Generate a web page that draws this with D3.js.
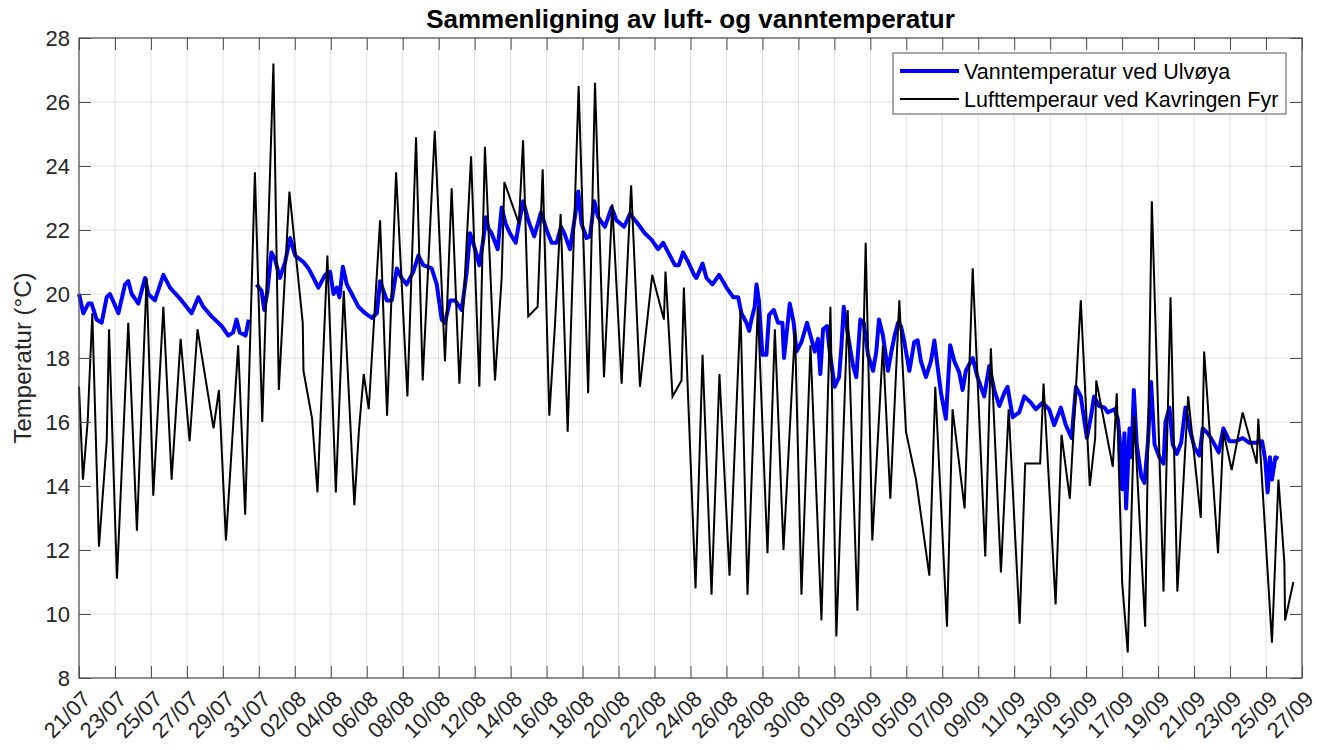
<!DOCTYPE html>
<html>
<head>
<meta charset="utf-8">
<script src="https://cdn.jsdelivr.net/npm/d3@7/dist/d3.min.js"></script>
<style>
  body { margin: 0; background: #fff; }
  text { font-family: "Liberation Sans", Arial, sans-serif; fill: #262626; }
</style>
</head>
<body>
<div id="chart"></div>
<script>
// ---- data (tid = dager etter 21/07) ----
var startDate = new Date(2020, 6, 21);
var tickDays = d3.range(0, 69, 2);           // 21/07 ... 27/09
var yTicks = [8, 10, 12, 14, 16, 18, 20, 22, 24, 26, 28];

// vanntemperatur Ulvøya
var waterDays = [0, 0.24, 0.52, 0.7, 0.98, 1.26, 1.54, 1.72, 1.96, 2.19, 2.56, 2.74, 2.93, 3.3, 3.67, 3.85, 4.22, 4.69, 5.06, 5.7, 6.26, 6.63, 6.91, 7.37, 7.93, 8.3, 8.57, 8.76, 8.94, 9.26, 9.44,
  9.6,
  9.87, 10.15, 10.3, 10.48, 10.7, 10.89, 11.17, 11.46, 11.74, 12.02, 12.48, 12.76, 13.04, 13.31, 13.69, 13.96, 14.15, 14.33, 14.48, 14.67, 14.89, 15.17, 15.54, 15.91, 16.28, 16.56, 16.74, 17.11, 17.39, 17.67, 17.94, 18.22, 18.59, 18.87, 19.15, 19.61, 19.89, 20.17, 20.35, 20.63, 20.91, 21.28, 21.56, 21.74, 22.02, 22.26, 22.48, 22.63,
  22.76, 22.94, 23.28, 23.5, 23.72, 23.96, 24.28, 24.46, 24.7, 24.98, 25.31, 25.69, 26.0, 26.28, 26.56, 26.8, 26.98, 27.3, 27.57, 27.76, 27.94, 28.22, 28.41, 28.65, 28.87, 29.24, 29.61, 29.89, 30.31, 30.63, 31.0, 31.46, 31.83, 32.2, 32.48, 32.76, 33.13, 33.35, 33.59, 33.87,
  34.2, 34.33, 34.67, 34.89, 35.22, 35.59, 36.0, 36.37, 36.65, 36.83, 37.11, 37.26, 37.39, 37.57, 37.67, 37.8, 37.89, 38.0, 38.22, 38.37, 38.63, 38.87, 39.11, 39.2, 39.33, 39.52, 39.74, 39.89, 40.17, 40.48, 40.67, 40.91, 41.09, 41.22, 41.37, 41.59, 41.74, 42.02, 42.26, 42.39, 42.52, 42.76, 43.04, 43.22, 43.44, 43.63, 43.87, 44.15, 44.33, 44.48, 44.7, 44.98, 45.17, 45.35, 45.54,
  45.7, 45.89, 46.17, 46.44, 46.63, 46.81, 47.09, 47.37, 47.56, 47.7, 47.93, 48.2, 48.44, 48.67, 48.94, 49.13, 49.31, 49.69, 49.96, 50.33, 50.61, 50.89, 51.17, 51.44, 51.63, 51.91, 52.28, 52.56, 52.93, 53.2, 53.57, 53.94, 54.22, 54.59, 54.87, 55.19, 55.43, 55.7, 56.04, 56.26, 56.44, 56.72,
  57.02, 57.2, 57.57, 57.76, 57.89, 58.0, 58.13, 58.22, 58.41, 58.52, 58.65, 58.81, 59.06, 59.24, 59.43, 59.61, 59.8, 60.07, 60.3, 60.41, 60.63, 60.81, 61.04, 61.28, 61.52, 61.7, 62.02, 62.3, 62.48, 62.76, 63.04, 63.37, 63.63, 63.96, 64.33, 64.7, 65.07, 65.44, 65.78, 65.96, 66.09, 66.22, 66.33, 66.52, 66.69];
var waterTemp = [20.0, 19.4, 19.7, 19.7, 19.2, 19.1, 19.9, 20.0, 19.7, 19.4, 20.3, 20.4, 20.0, 19.7, 20.5, 20.0, 19.8, 20.6, 20.2, 19.8, 19.4, 19.9, 19.6, 19.3, 19.0, 18.7, 18.8, 19.2, 18.8, 18.7, 19.2,
  NaN,
  20.3, 20.1, 19.5, 20.1, 21.3, 21.1, 20.5, 21.0, 21.75, 21.2, 21.0, 20.8, 20.5, 20.2, 20.6, 20.7, 20.0, 20.2, 19.9, 20.85, 20.3, 20.0, 19.6, 19.4, 19.25, 19.4, 20.4, 19.8, 19.8, 20.8, 20.5, 20.3, 20.7, 21.2, 20.9, 20.8, 20.3, 19.2, 19.1, 19.8, 19.8, 19.5, 20.7, 21.9, 21.4, 20.9, 21.7, 22.4,
  22.05, 21.9, 21.4, 22.7, 22.2, 21.9, 21.6, 22.2, 22.9, 22.3, 21.8, 22.55, 22.0, 21.6, 21.6, 22.1, 21.9, 21.4, 22.4, 23.2, 22.2, 21.75, 21.8, 22.9, 22.4, 22.1, 22.7, 22.3, 22.1, 22.5, 22.25, 21.9, 21.7, 21.4, 21.6, 21.3, 20.9, 20.9, 21.3, 21.0,
  20.6, 20.5, 20.95, 20.5, 20.3, 20.6, 20.2, 19.9, 19.9, 19.4, 19.1, 18.85, 19.2, 19.6, 20.3, 19.8, 19.0, 18.1, 18.1, 19.35, 19.5, 19.1, 19.1, 18.0, 18.7, 19.7, 19.1, 18.2, 18.5, 19.1, 18.7, 18.2, 18.6, 17.5, 18.9, 19.0, 18.2, 17.1, 17.4, 18.35, 19.6, 18.7, 17.75, 17.4, 19.2, 19.1, 18.1, 17.6, 18.2, 19.2, 18.7, 17.6, 18.2, 18.7, 19.1,
  19.0, 18.5, 17.6, 18.5, 18.55, 17.9, 17.4, 17.9, 18.55, 17.9, 16.9, 16.1, 18.4, 17.9, 17.55, 17.0, 17.6, 18.0, 17.4, 16.8, 17.75, 17.0, 16.5, 16.9, 17.1, 16.15, 16.3, 16.8, 16.6, 16.4, 16.6, 16.4, 15.9, 16.45, 15.9, 15.5, 17.1, 16.8, 15.5, 16.15, 16.8, 16.5,
  16.45, 16.3, 16.4, 16.1, 15.3, 13.9, 15.65, 13.3, 15.8, 14.9, 17.0, 15.3, 14.3, 14.1, 15.35, 17.25, 15.3, 14.9, 14.7, 16.0, 16.45, 15.3, 15.0, 15.35, 16.45, 15.9, 15.2, 14.95, 15.8, 15.65, 15.4, 15.05, 15.8, 15.4, 15.4, 15.5, 15.35, 15.35, 15.4, 14.8, 13.8, 14.9, 14.2, 14.9, 14.85];

// lufttemperatur Kavringen fyr
var airDays = [0, 0.22, 0.48, 0.74, 1.11, 1.54, 1.67, 2.11, 2.74, 3.22, 3.76, 4.13, 4.69, 5.15, 5.65, 6.15, 6.59, 7.48, 7.78, 8.17, 8.85, 9.24, 9.78, 10.19, 10.81, 11.11,
  11.7, 12.44, 12.48, 12.96, 13.26, 13.81, 14.28, 14.72, 15.31, 15.56, 15.83, 16.11, 16.74, 17.13, 17.63, 18.26, 18.74, 19.11, 19.78, 20.35, 20.72, 21.15, 21.8, 22.26, 22.57,
  23.13, 23.5, 23.65, 24.46, 24.69, 24.98, 25.5, 25.78, 26.15, 26.46, 26.78, 27.17, 27.78, 28.31, 28.69, 29.19, 29.65, 30.17, 30.7, 31.19, 31.87, 32.52, 32.61, 33.0, 33.5, 33.63,
  34.28, 34.67, 35.17, 35.61, 36.17, 36.78, 37.17, 37.74, 38.28, 38.69, 39.17, 39.81, 40.17, 40.67, 41.28, 41.78, 42.11, 42.74, 43.28, 43.74, 44.11, 44.7, 45.11,
  45.61, 45.98, 46.54, 47.28, 47.61, 48.26, 48.57, 49.24, 49.69, 50.39, 50.7, 51.26, 51.69, 52.3, 52.61, 53.44, 53.63, 54.3, 54.63, 55.09, 55.7, 56.2, 56.5, 56.56,
  57.48, 57.7, 58.0, 58.31, 58.67, 59.28, 59.65, 60.3, 60.69, 61.07, 61.67, 62.37, 62.56, 63.33, 63.63, 64.09, 64.7, 65.48, 65.57, 66.33, 66.69, 67.02, 67.06, 67.52];
var airTemp = [17.1, 14.2, 16.0, 19.4, 12.1, 15.4, 18.9, 11.1, 19.1, 12.6, 20.5, 13.7, 19.6, 14.2, 18.6, 15.4, 18.9, 15.8, 17.0, 12.3, 18.4, 13.1, 23.8, 16.0, 27.2, 17.0,
  23.2, 19.1, 17.6, 16.1, 13.8, 21.2, 13.8, 20.1, 13.4, 15.7, 17.5, 16.4, 22.3, 16.2, 23.8, 16.8, 24.9, 17.3, 25.1, 17.9, 23.3, 17.2, 24.3, 17.1, 24.6,
  17.3, 20.5, 23.5, 22.2, 24.8, 19.3, 19.6, 23.9, 16.2, 19.0, 22.5, 15.7, 26.5, 16.9, 26.6, 17.4, 22.8, 17.2, 23.4, 17.1, 20.6, 19.2, 20.7, 16.8, 17.3, 20.2,
  10.8, 18.1, 10.6, 17.5, 11.2, 19.5, 10.6, 19.6, 11.9, 18.9, 12.0, 18.9, 10.6, 18.4, 9.8, 19.6, 9.3, 19.5, 10.1, 21.6, 12.3, 18.4, 13.6,
  19.8, 15.7, 14.2, 11.2, 17.1, 9.6, 16.4, 13.3, 20.8, 11.8, 18.3, 11.3, 16.4, 9.7, 14.7, 14.7, 17.2, 10.3, 15.6, 13.6, 19.8, 14.0, 15.5, 17.3,
  14.6, 16.9, 11.0, 8.8, 16.2, 9.6, 22.9, 10.7, 19.9, 10.7, 16.8, 13.0, 18.2, 11.9, 15.7, 14.5, 16.3, 14.7, 16.1, 9.1, 14.2, 11.6, 9.8, 11.0];

var seriesNames = ["Vanntemperatur ved Ulvøya", "Lufttemperaur ved Kavringen Fyr"];
var seriesColors = ["#0000ff", "#000000"];

// ---- oppsett ----
var W = 1318, H = 750;
var margin = {top: 38, right: 16, bottom: 72, left: 79};
var width = W - margin.left - margin.right;
var height = H - margin.top - margin.bottom;

function dayToDate(d) { return new Date(startDate.getTime() + d * 86400000); }

var svg = d3.select("#chart").append("svg")
  .attr("width", W)
  .attr("height", H);

var g = svg.append("g")
  .attr("transform", "translate(" + margin.left + "," + margin.top + ")");

var x = d3.scaleTime()
  .domain([dayToDate(0), dayToDate(68)])
  .range([0, width]);
var y = d3.scaleLinear()
  .domain([8, 28])
  .range([height, 0]);

var fmt = d3.timeFormat("%d/%m");
var tickDates = tickDays.map(dayToDate);

// rutenett
g.append("g").selectAll("line.vg")
  .data(tickDates).enter().append("line")
  .attr("x1", function(d) { return x(d); })
  .attr("x2", function(d) { return x(d); })
  .attr("y1", 0).attr("y2", height)
  .attr("stroke", "#e0e0e0").attr("stroke-width", 1);
g.append("g").selectAll("line.hg")
  .data(yTicks).enter().append("line")
  .attr("x1", 0).attr("x2", width)
  .attr("y1", function(d) { return y(d); })
  .attr("y2", function(d) { return y(d); })
  .attr("stroke", "#e0e0e0").attr("stroke-width", 1);

// linjer
var plot = g.append("g");

var waterData = waterDays.map(function(d, i) { return {date: dayToDate(d), value: waterTemp[i]}; });
var airData = airDays.map(function(d, i) { return {date: dayToDate(d), value: airTemp[i]}; });

var line = d3.line()
  .defined(function(d) { return !isNaN(d.value); })
  .x(function(d) { return x(d.date); })
  .y(function(d) { return y(d.value); });

plot.append("path")
  .datum(waterData)
  .attr("d", line)
  .attr("fill", "none")
  .attr("stroke", seriesColors[0])
  .attr("stroke-width", 4)
  .attr("stroke-linejoin", "round");

plot.append("path")
  .datum(airData)
  .attr("d", line)
  .attr("fill", "none")
  .attr("stroke", seriesColors[1])
  .attr("stroke-width", 2)
  .attr("stroke-linejoin", "miter");

// akser (tick inn)
var tickLen = 12;
var axisColor = "#4d4d4d";

var xAxis = d3.axisBottom(x).tickValues(tickDates).tickFormat(fmt).tickSizeInner(-tickLen).tickSizeOuter(0);
var xAxisTop = d3.axisTop(x).tickValues(tickDates).tickFormat("").tickSizeInner(-tickLen).tickSizeOuter(0);
var yAxis = d3.axisLeft(y).tickValues(yTicks).tickSizeInner(-tickLen).tickSizeOuter(0);
var yAxisRight = d3.axisRight(y).tickValues(yTicks).tickFormat("").tickSizeInner(-tickLen).tickSizeOuter(0);

var gx = g.append("g").attr("transform", "translate(0," + height + ")").call(xAxis);
gx.selectAll("text")
  .attr("font-size", 22)
  .attr("text-anchor", "end")
  .attr("dy", "0.35em")
  .attr("transform", "translate(7,17) rotate(-45)")
  .attr("y", 0).attr("x", 0);

g.append("g").call(xAxisTop);

var gy = g.append("g").call(yAxis);
gy.selectAll("text").attr("font-size", 22).attr("x", -9);

g.append("g").attr("transform", "translate(" + width + ",0)").call(yAxisRight);

g.selectAll(".domain").remove();
g.selectAll(".tick line").attr("stroke", axisColor).attr("stroke-width", 1);
g.selectAll(".tick text").style("fill", "#262626").attr("font-family", "'Liberation Sans', Arial, sans-serif");

// ramme
g.append("rect")
  .attr("x", 0).attr("y", 0)
  .attr("width", width).attr("height", height)
  .attr("fill", "none")
  .attr("stroke", axisColor)
  .attr("stroke-width", 1.2);

// tittel
svg.append("text")
  .attr("x", margin.left + width / 2)
  .attr("y", 28)
  .attr("text-anchor", "middle")
  .attr("font-size", 26)
  .attr("font-weight", "bold")
  .style("fill", "#000")
  .text("Sammenligning av luft- og vanntemperatur");

// y-tittel
svg.append("text")
  .attr("transform", "translate(31," + (margin.top + height / 2) + ") rotate(-90)")
  .attr("text-anchor", "middle")
  .attr("font-size", 24)
  .text("Temperatur (°C)");

// legende
var legend = svg.append("g").attr("transform", "translate(893,53)");
legend.append("rect")
  .attr("width", 393).attr("height", 61)
  .attr("fill", "#fff")
  .attr("stroke", "#555")
  .attr("stroke-width", 1);

seriesNames.forEach(function(name, i) {
  var ly = 18 + i * 28;
  legend.append("line")
    .attr("x1", 7).attr("x2", 66)
    .attr("y1", ly).attr("y2", ly)
    .attr("stroke", seriesColors[i])
    .attr("stroke-width", i === 0 ? 4 : 2);
  legend.append("text")
    .attr("x", 71).attr("y", ly)
    .attr("dy", "0.35em")
    .attr("font-size", 21.5)
    .style("fill", "#000")
    .text(name);
});
</script>
</body>
</html>
